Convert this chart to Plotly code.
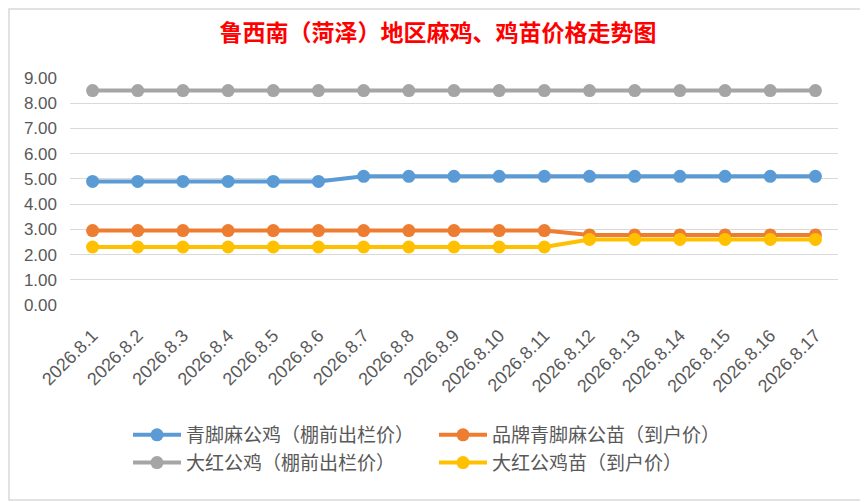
import plotly.graph_objects as go

dates = ["2026.8.1", "2026.8.2", "2026.8.3", "2026.8.4", "2026.8.5", "2026.8.6",
         "2026.8.7", "2026.8.8", "2026.8.9", "2026.8.10", "2026.8.11", "2026.8.12",
         "2026.8.13", "2026.8.14", "2026.8.15", "2026.8.16", "2026.8.17"]

qingjiao_rooster = [4.9, 4.9, 4.9, 4.9, 4.9, 4.9, 5.1, 5.1, 5.1, 5.1, 5.1, 5.1, 5.1, 5.1, 5.1, 5.1, 5.1]
brand_chick = [2.95, 2.95, 2.95, 2.95, 2.95, 2.95, 2.95, 2.95, 2.95, 2.95, 2.95, 2.78, 2.78, 2.78, 2.78, 2.78, 2.78]
dahong_rooster = [8.5] * 17
dahong_chick = [2.3, 2.3, 2.3, 2.3, 2.3, 2.3, 2.3, 2.3, 2.3, 2.3, 2.3, 2.6, 2.6, 2.6, 2.6, 2.6, 2.6]

names = ["青脚麻公鸡（棚前出栏价）", "品牌青脚麻公苗（到户价）", "大红公鸡（棚前出栏价）", "大红公鸡苗（到户价）"]
colors = ["#5B9BD5", "#ED7D31", "#A5A5A5", "#FFC000"]
series = [qingjiao_rooster, brand_chick, dahong_rooster, dahong_chick]

OFF = 8  # page body margin offset
W, H = 868 - OFF, 502 - OFF
L, R, T, B = 70 - OFF, 30, 78 - OFF, 197
pw, ph = W - L - R, H - T - B

fig = go.Figure()
for name, col, vals in zip(names, colors, series):
    fig.add_trace(go.Scatter(
        x=list(range(len(dates))), y=vals, name=name, mode="lines+markers",
        line=dict(color=col, width=4), marker=dict(color=col, size=13),
    ))

fig.update_layout(
    width=W, height=H,
    margin=dict(l=L, r=R, t=T, b=B),
    paper_bgcolor="white", plot_bgcolor="white",
    font=dict(family="Liberation Sans, Noto Sans CJK SC", color="#595959"),
    title=dict(text="<b>鲁西南（菏泽）地区麻鸡、鸡苗价格走势图</b>", x=0.5, xanchor="center",
               y=1 - (33 - OFF) / H, yanchor="middle", yref="container",
               font=dict(family="Noto Sans CJK SC", size=23, color="#FF0000")),
    xaxis=dict(range=[-0.5, len(dates) - 0.5], tickmode="array",
               tickvals=list(range(len(dates))), ticktext=dates, tickangle=-45,
               showgrid=False, zeroline=False, showline=False,
               ticks="outside", ticklen=12, tickcolor="rgba(0,0,0,0)",
               tickfont=dict(size=18, color="#595959")),
    yaxis=dict(range=[0, 9], dtick=1, tickformat=".2f", showgrid=True,
               gridcolor="#D9D9D9", gridwidth=1, zeroline=False, showline=False,
               ticks="", ticklabelstandoff=12,
               tickfont=dict(size=17, color="#595959")),
    legend=dict(orientation="h", x=0.5 - 4 / W, xanchor="center", xref="container",
                y=1 - (416 - OFF) / H, yanchor="top", yref="container",
                entrywidth=243, itemwidth=48,
                font=dict(family="Noto Sans CJK SC", size=19, color="#595959")),
    showlegend=True,
)

def px_x(p):
    return (p - OFF - L) / pw

def px_y(p):
    return (H + OFF - B - p) / ph

fig.add_shape(type="rect", xref="paper", yref="paper",
              x0=px_x(OFF + 1), x1=px_x(866), y0=px_y(500), y1=px_y(OFF + 1),
              line=dict(color="#D9D9D9", width=1.5), fillcolor="rgba(0,0,0,0)",
              layer="below")

fig.write_html("out.html")
